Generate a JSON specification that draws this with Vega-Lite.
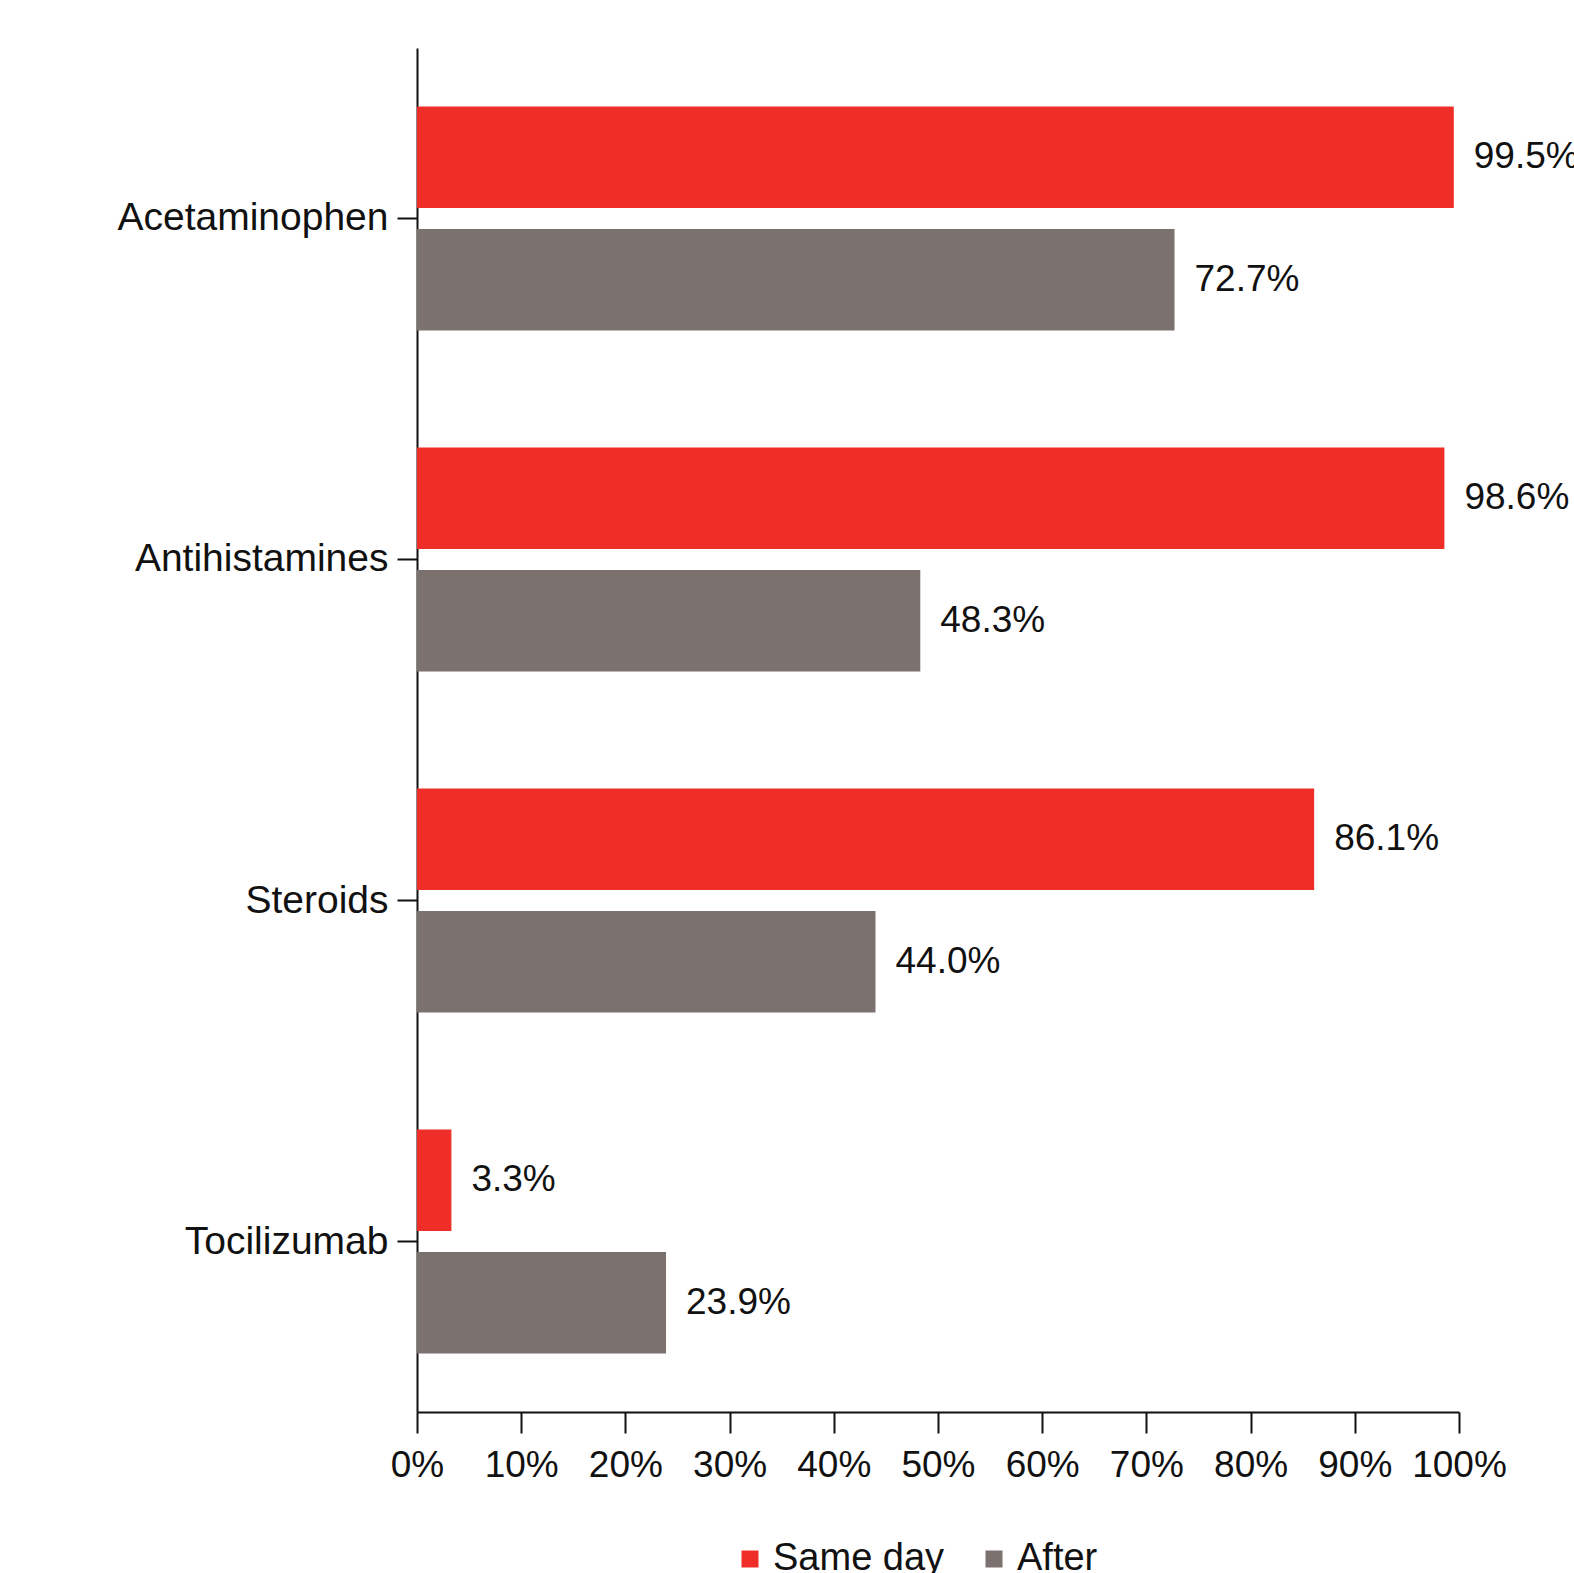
{
  "$schema": "https://vega.github.io/schema/vega-lite/v6.json",
  "width": 1042,
  "height": 1364,
  "autosize": {"type": "none"},
  "padding": {"left": 417, "top": 48, "right": 115, "bottom": 161},
  "background": "white",
  "config": {"view": {"stroke": null}, "font": "Liberation Sans"},
  "data": {
    "values": [
      {"drug": "Acetaminophen", "timing": "Same day", "share": 0.995},
      {"drug": "Acetaminophen", "timing": "After", "share": 0.727},
      {"drug": "Antihistamines", "timing": "Same day", "share": 0.986},
      {"drug": "Antihistamines", "timing": "After", "share": 0.483},
      {"drug": "Steroids", "timing": "Same day", "share": 0.861},
      {"drug": "Steroids", "timing": "After", "share": 0.44},
      {"drug": "Tocilizumab", "timing": "Same day", "share": 0.033},
      {"drug": "Tocilizumab", "timing": "After", "share": 0.239}
    ]
  },
  "encoding": {
    "y": {
      "field": "drug",
      "type": "nominal",
      "sort": ["Acetaminophen", "Antihistamines", "Steroids", "Tocilizumab"],
      "scale": {"paddingInner": 0.3437, "paddingOuter": 0.1718},
      "axis": {
        "title": null,
        "labelFontSize": 39,
        "labelLimit": 0,
        "labelColor": "#111111",
        "labelPadding": 9,
        "tickSize": 20,
        "tickWidth": 2,
        "tickColor": "#111111",
        "domainColor": "#111111",
        "domainWidth": 2
      }
    },
    "yOffset": {
      "field": "timing",
      "type": "nominal",
      "sort": ["Same day", "After"],
      "scale": {"paddingInner": 0.172, "paddingOuter": 0}
    },
    "x": {
      "field": "share",
      "type": "quantitative",
      "scale": {"domain": [0, 1], "nice": false},
      "axis": {
        "title": null,
        "values": [0, 0.1, 0.2, 0.3, 0.4, 0.5, 0.6, 0.7, 0.8, 0.9, 1],
        "format": ".0%",
        "grid": false,
        "labelFontSize": 37,
        "labelColor": "#111111",
        "labelPadding": 14,
        "tickSize": 21,
        "tickWidth": 2,
        "tickColor": "#111111",
        "domainColor": "#111111",
        "domainWidth": 2,
        "labelFlush": false
      }
    }
  },
  "layer": [
    {
      "mark": {"type": "bar"},
      "encoding": {
        "color": {
          "field": "timing",
          "type": "nominal",
          "sort": ["Same day", "After"],
          "scale": {"domain": ["Same day", "After"], "range": ["#ee2e27", "#7b716f"]},
          "legend": {
            "title": null,
            "orient": "none",
            "legendX": 314,
            "legendY": 1492,
            "direction": "horizontal",
            "symbolType": "square",
            "symbolSize": 289,
            "symbolStrokeWidth": 0,
            "labelFontSize": 38,
            "labelLimit": 0,
            "labelColor": "#111111",
            "labelOffset": 4,
            "columnPadding": 30
          }
        }
      }
    },
    {
      "mark": {"type": "text", "align": "left", "baseline": "middle", "dx": 20, "fontSize": 37, "color": "#111111"},
      "encoding": {
        "text": {"field": "share", "type": "quantitative", "format": ".1%"}
      }
    }
  ]
}
